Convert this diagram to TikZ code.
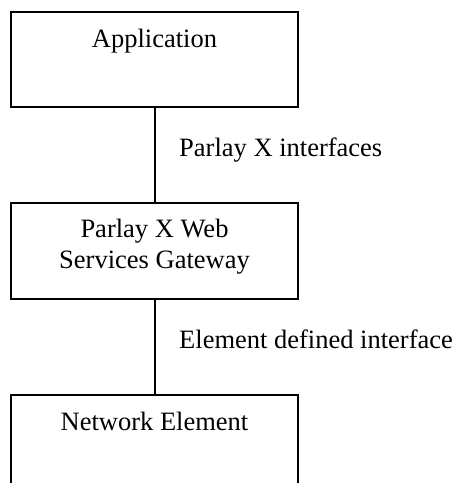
\documentclass[tikz,border=0pt]{standalone}
\usepackage{fontspec}
\setmainfont{Liberation Serif}
\begin{document}
\begin{tikzpicture}[x=1pt,y=-1pt,
  box/.style={draw=black, line width=2pt, rectangle, minimum width=287pt, inner sep=0pt},
  lbl/.style={font=\fontsize{26.5}{30.6}\selectfont, inner sep=0pt},
  conn/.style={draw=black, line width=2pt}]
\useasboundingbox (0,0) rectangle (456,483);
\clip (0,0) rectangle (456,483);
\node[box, minimum height=95pt] (app) at (154.5,59.5) {};
\node[lbl, anchor=base] (appt) at (154.5,47.3) {Application};
\node[box, minimum height=96pt] (gw) at (154.5,251) {};
\node[lbl, anchor=base, align=center] (gwt) at (154.5,268.3) {Parlay X Web\\Services Gateway};
\node[box, minimum height=200pt] (ne) at (154.5,495) {};
\node[lbl, anchor=base] (net) at (154.5,430.7) {Network Element};
\draw[conn] (app.south) -- (gw.north);
\draw[conn] (gw.south) -- (ne.north);
\node[lbl, anchor=base west] (pxi) at (179,156) {Parlay X interfaces};
\node[lbl, anchor=base west] (edi) at (179,348.3) {Element defined interface};
\end{tikzpicture}
\end{document}
